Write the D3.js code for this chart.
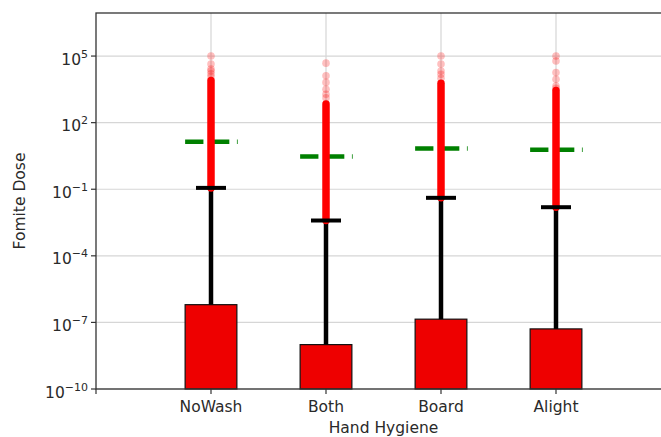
<!DOCTYPE html>
<html lang="en">
<head>
<meta charset="UTF-8">
<title>Fomite Dose by Hand Hygiene</title>
<script src="https://d3js.org/d3.v7.min.js"></script>
<style>
    body { margin: 0; background: #fff; }
    text { font-family: "DejaVu Sans", sans-serif; fill: #2a2a2a; }
</style>
</head>
<body>
<svg width="661" height="437"></svg>
<script>
    // categories and values
    const categories = ["NoWash", "Both", "Board", "Alight"];
    const barValues = [6.3e-7, 1.0e-8, 1.4e-7, 5.1e-8];        // red bars
    const whiskerTop = [0.115, 0.0039, 0.041, 0.0155];          // black caps
    const meanValues = [13.8, 3.0, 6.9, 6.0];                   // green dashes
    const denseTop = [8000, 700, 6000, 2800];                   // top of the solid red run of points
    const sparsePoints = [
        [1e5, 4.4e4, 2.6e4, 2.1e4, 1.6e4, 1.2e4],
        [4.8e4, 1.3e4, 6.5e3, 3.2e3, 1.9e3, 1.3e3],
        [1e5, 4.4e4, 2.1e4, 1.5e4, 1e4],
        [1e5, 6e4, 1.8e4, 9e3, 4.5e3, 3.5e3]
    ];
    const yTicks = [1e-10, 1e-7, 1e-4, 1e-1, 1e2, 1e5];
    const yTickExp = ["\u221210", "\u22127", "\u22124", "\u22121", "2", "5"];

    const svg = d3.select("svg");
    const plotLeft = 96, plotTop = 13, plotBottom = 389, plotRight = 671;

    const x = d3.scaleLinear().domain([0, 5]).range([plotLeft, plotRight]);
    const y = d3.scaleLog().domain([1e-10, Math.pow(10, 6.94)]).range([plotBottom, plotTop]);
    const barW = 0.45;

    // grid
    const grid = svg.append("g").attr("stroke", "#d6d6d6").attr("stroke-width", 1.2);
    grid.selectAll(".gy").data(yTicks).join("line")
        .attr("x1", plotLeft).attr("x2", plotRight)
        .attr("y1", d => y(d)).attr("y2", d => y(d));
    grid.selectAll(".gx").data(categories).join("line")
        .attr("x1", (d, i) => x(i + 1)).attr("x2", (d, i) => x(i + 1))
        .attr("y1", plotTop).attr("y2", plotBottom);

    // bars
    svg.append("g").selectAll("rect").data(barValues).join("rect")
        .attr("x", (d, i) => x(i + 1 - barW / 2))
        .attr("width", x(barW) - x(0))
        .attr("y", d => y(d))
        .attr("height", d => plotBottom - y(d))
        .attr("fill", "#ee0000")
        .attr("stroke", "#111")
        .attr("stroke-width", 1.2);

    // whiskers
    svg.append("g").selectAll("line").data(whiskerTop).join("line")
        .attr("x1", (d, i) => x(i + 1)).attr("x2", (d, i) => x(i + 1))
        .attr("y1", (d, i) => y(barValues[i])).attr("y2", d => y(d))
        .attr("stroke", "#000").attr("stroke-width", 4.5);

    // mean lines
    svg.append("g").selectAll("line").data(meanValues).join("line")
        .attr("x1", (d, i) => x(i + 1 - barW / 2))
        .attr("x2", (d, i) => x(i + 1 + barW / 2) + 0.8)
        .attr("y1", d => y(d)).attr("y2", d => y(d))
        .attr("stroke", "#008000").attr("stroke-width", 4.5)
        .attr("stroke-dasharray", "18.3,7.6");

    // red points: solid run plus sparse faded ones above it
    svg.append("g").selectAll("line").data(denseTop).join("line")
        .attr("x1", (d, i) => x(i + 1)).attr("x2", (d, i) => x(i + 1))
        .attr("y1", (d, i) => y(whiskerTop[i])).attr("y2", d => y(d))
        .attr("stroke", "#ff0000").attr("stroke-width", 7.5)
        .attr("stroke-linecap", "round");
    const pts = sparsePoints.flatMap((arr, i) => arr.map(v => ({ i, v })));
    svg.append("g").selectAll("circle").data(pts).join("circle")
        .attr("cx", d => x(d.i + 1))
        .attr("cy", d => y(d.v))
        .attr("r", 3.8)
        .attr("fill", "#ff0000")
        .attr("fill-opacity", 0.25);

    // caps
    svg.append("g").selectAll("line").data(whiskerTop).join("line")
        .attr("x1", (d, i) => x(i + 1) - 15).attr("x2", (d, i) => x(i + 1) + 15)
        .attr("y1", d => y(d)).attr("y2", d => y(d))
        .attr("stroke", "#000").attr("stroke-width", 4);

    // spines
    svg.append("rect")
        .attr("x", plotLeft).attr("y", plotTop)
        .attr("width", plotRight - plotLeft).attr("height", plotBottom - plotTop)
        .attr("fill", "none").attr("stroke", "#333").attr("stroke-width", 1.3);

    // y ticks
    const yt = svg.append("g");
    yt.selectAll("line").data(yTicks).join("line")
        .attr("x1", plotLeft - 5).attr("x2", plotLeft)
        .attr("y1", d => y(d)).attr("y2", d => y(d))
        .attr("stroke", "#333").attr("stroke-width", 1.2);
    const lbl = yt.selectAll("text").data(yTicks).join("text")
        .attr("x", plotLeft - 8)
        .attr("y", d => y(d) + 8.5)
        .attr("text-anchor", "end")
        .style("font-size", "15.5px");
    lbl.append("tspan").text("10");
    lbl.append("tspan").attr("dy", -7).style("font-size", "11px")
        .text((d, i) => yTickExp[i]);

    // x ticks
    const xt = svg.append("g");
    xt.selectAll("line").data([0, 1, 2, 3, 4]).join("line")
        .attr("x1", d => x(d)).attr("x2", d => x(d))
        .attr("y1", plotBottom).attr("y2", plotBottom + 5)
        .attr("stroke", "#333").attr("stroke-width", 1.2);
    xt.selectAll("text").data(categories).join("text")
        .attr("x", (d, i) => x(i + 1))
        .attr("y", 412)
        .attr("text-anchor", "middle")
        .style("font-size", "15.5px")
        .text(d => d);

    // axis labels
    svg.append("text")
        .attr("x", (plotLeft + plotRight) / 2).attr("y", 433)
        .attr("text-anchor", "middle")
        .style("font-size", "15.5px")
        .text("Hand Hygiene");
    svg.append("text")
        .attr("transform", `translate(25,${(plotTop + plotBottom) / 2}) rotate(-90)`)
        .attr("text-anchor", "middle")
        .style("font-size", "15.5px")
        .text("Fomite Dose");
</script>
</body>
</html>
